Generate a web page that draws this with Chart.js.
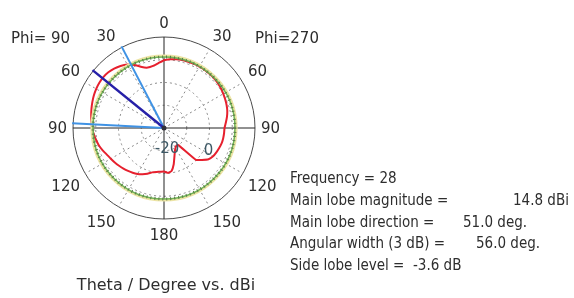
<!DOCTYPE html>
<html lang="en">
<head>
  <meta charset="UTF-8" />
  <title>Farfield directivity, polar</title>
  <script src="https://cdn.jsdelivr.net/npm/chart.js"></script>
  <style>
    body { margin: 0; background: #fff; font-family: "DejaVu Sans", sans-serif; }
    #wrap { position: relative; width: 574px; height: 298px; overflow: hidden; }
    #polar { position: absolute; left: 0; top: 0; }
    .txt { position: absolute; font-size: 15px; line-height: 18px; color: #2e2e2e; white-space: pre; }
    .info { font-family: "DejaVu Sans Condensed", "Noto Sans", sans-serif; font-stretch: condensed; }
  </style>
</head>
<body>
<div id="wrap">
  <canvas id="polar" width="574" height="298"></canvas>
  <div class="txt" style="left:11px; top:29px">Phi= 90</div>
  <div class="txt" style="left:255px; top:29px">Phi=270</div>
  <div class="txt" style="left:56px; top:276px; width:220px; text-align:center; font-size:16px">Theta / Degree vs. dBi</div>
  <div class="txt info" style="left:290px; top:169px">Frequency = 28</div>
  <div class="txt info" style="left:290px; top:191px">Main lobe magnitude =</div>
  <div class="txt info" style="left:513px; top:191px">14.8 dBi</div>
  <div class="txt info" style="left:290px; top:213px">Main lobe direction =</div>
  <div class="txt info" style="left:463px; top:213px">51.0 deg.</div>
  <div class="txt info" style="left:476px; top:234px">56.0 deg.</div>
  <div class="txt info" style="left:290px; top:234px">Angular width (3 dB) =</div>
  <div class="txt info" style="left:290px; top:256px">Side lobe level =</div>
  <div class="txt info" style="left:413px; top:256px">-3.6 dB</div>
</div>

<script>
  // theta in degrees, 5 degree steps
  const thetaDeg = [0, 5, 10, 15, 20, 25, 30, 35, 40, 45, 50, 55, 60, 65, 70, 75, 80, 85, 90,
                    95, 100, 105, 110, 115, 120, 125, 130, 135, 140, 145, 150, 155, 160, 165, 170, 175, 180];

  // gain (dBi), right half of the plot
  const phi270Gain = [9.8, 10.3, 10.7, 10.9, 11.0, 11.1, 11.2, 11.2, 11.1, 11.0, 10.8, 10.5, 10.1, 9.7,
                      9.3, 8.8, 8.1, 7.3, 6.6, 6.5, 6.4, 6.2, 5.8, 5.4, 4.9, 3.9, 1.8, -0.2, -10.2,
                      -10.5, -9.9, -8.7, -6.6, -3.5, -0.8, -0.2, -0.9];

  // gain (dBi), left half of the plot
  const phi90Gain = [9.8, 8.6, 7.7, 7.5, 8.5, 10.6, 12.2, 13.3, 14.1, 14.6, 14.8, 14.7, 14.4, 14.0,
                     13.5, 13.0, 12.5, 12.0, 11.6, 11.0, 10.3, 9.6, 8.7, 7.7, 7.0, 6.4, 5.8, 5.2, 4.6,
                     4.0, 3.3, 2.4, 1.4, 0.2, -0.4, -0.7, -0.9];

  const angleTicks = [0, 30, 60, 90, 120, 150, 180, 150, 120, 90, 60, 30];
  const dbTicks = ['-20', '0'];
  const mainLobeDir = 51;          // deg, phi = 90
  const beamEdges = [27.5, 87];    // 3 dB points, phi = 90
  const sideLobeLevel = 11.2;      // dBi
  const halfPowerLevel = 11.8;     // dBi
  const step = 5;

  // one closed loop, clockwise from the top: phi=270 half then phi=90 half
  const loopLabels = [...thetaDeg, ...thetaDeg.slice(1, -1).reverse()].map(String);
  const loopGain = [...phi270Gain, ...phi90Gain.slice(1, -1).reverse()];

  const fontTxt = '15px "DejaVu Sans", sans-serif';

  const overlay = {
    id: 'overlay',
    afterDatasetsDraw(chart) {
      const r = chart.scales.r;
      const c = chart.ctx;
      const cx = r.xCenter, cy = r.yCenter;
      const outer = r.drawingArea;
      c.save();

      // -3 dB ring and side lobe ring
      c.lineWidth = 2.5;
      c.strokeStyle = '#ece4a4';
      c.beginPath();
      c.arc(cx, cy, r.getDistanceFromCenterForValue(halfPowerLevel), 0, Math.PI * 2);
      c.stroke();
      const sl = r.getDistanceFromCenterForValue(sideLobeLevel);
      c.lineWidth = 1.5;
      c.strokeStyle = '#6fb553';
      c.beginPath();
      c.arc(cx, cy, sl, 0, Math.PI * 2);
      c.stroke();
      c.setLineDash([1, 3]);
      c.lineWidth = 3;
      c.strokeStyle = '#5c7a4a';
      c.beginPath();
      c.arc(cx, cy, sl, 0, Math.PI * 2);
      c.stroke();
      c.setLineDash([]);

      // phi = 90 is the left half, so screen angle = 360 - theta
      const ray = (theta, color, width) => {
        const p = r.getPointPosition((360 - theta) / step, outer + 1);
        c.strokeStyle = color;
        c.lineWidth = width;
        c.beginPath();
        c.moveTo(cx, cy);
        c.lineTo(p.x, p.y);
        c.stroke();
      };
      beamEdges.forEach(t => ray(t, '#3f92e4', 2));
      ray(mainLobeDir, '#2620a8', 2.5);

      c.fillStyle = '#30303a';
      c.beginPath();
      c.arc(cx, cy, 2.5, 0, Math.PI * 2);
      c.fill();

      // angle labels, the corner nearest the circle sits just outside it
      c.font = fontTxt;
      c.fillStyle = '#2e2e2e';
      c.textAlign = 'center';
      c.textBaseline = 'middle';
      angleTicks.forEach((t, i) => {
        const a = i * 30;
        const rad = a * Math.PI / 180;
        const w = c.measureText(String(t)).width;
        const p = r.getPointPosition(a / step, outer + 6);
        const sx = Math.sign(Math.round(Math.sin(rad) * 100));
        const sy = -Math.sign(Math.round(Math.cos(rad) * 100));
        c.fillText(String(t), p.x + sx * w / 2, p.y + sy * 8 + (sy > 0 ? 3 : 1));
      });

      // dB labels
      c.fillStyle = '#3d5966';
      let p = r.getPointPositionForValue(172 / step, -10.5);
      c.fillText(dbTicks[0], p.x, p.y);
      p = r.getPointPositionForValue(117 / step, 2);
      c.fillText(dbTicks[1], p.x, p.y);
      c.restore();
    }
  };

  const ctx = document.getElementById('polar').getContext('2d');
  new Chart(ctx, {
    type: 'radar',
    data: {
      labels: loopLabels,
      datasets: [{
        data: loopGain,
        borderColor: '#e6202e',
        borderWidth: 2,
        pointRadius: 0,
        fill: false,
        tension: 0.1
      }]
    },
    options: {
      responsive: false,
      animation: false,
      layout: { padding: { left: 73, right: 319, top: 37, bottom: 79 } },
      plugins: { legend: { display: false }, tooltip: { enabled: false } },
      scales: {
        r: {
          min: -20,
          max: 20,
          ticks: { display: false, stepSize: 10 },
          pointLabels: { display: false },
          grid: {
            circular: true,
            color: c => c.tick.value === 20 ? '#4a4a4a' : '#8a8a8a',
            lineWidth: 1
          },
          border: { dash: c => c.tick.value === 20 ? [] : [2, 3] },
          angleLines: {
            color: c => c.index % 18 === 0 ? '#222' : '#8a8a8a',
            lineWidth: c => c.index % 6 === 0 ? 1 : 0,
            borderDash: c => c.index % 18 === 0 ? [] : [2, 3]
          }
        }
      }
    },
    plugins: [overlay]
  });
</script>
</body>
</html>
